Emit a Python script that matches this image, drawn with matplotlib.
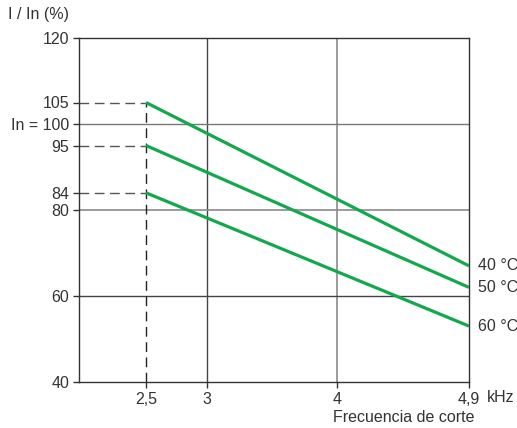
import numpy as np
import matplotlib.pyplot as plt

plt.rcParams['font.family'] = ['Liberation Sans', 'DejaVu Sans']

# datos
freq = [2.5, 4.9]                      # kHz
temps = ["40 °C", "50 °C", "60 °C"]
corriente = [[105, 67], [95, 62], [84, 53]]   # I / In (%)
y_ticks = [40, 60, 80, 84, 95, 100, 105, 120]
y_labels = ["40", "60", "80", "84", "95", "In = 100", "105", "120"]
x_ticks = [2.5, 3, 4, 4.9]
x_labels = ["2,5", "3", "4", "4,9"]

# escala esquemática del eje x (no lineal en el original)
x_real = np.array([2.0, 2.5, 3.0, 4.0, 4.9])
x_pos = np.array([0.0, 67.0, 128.0, 258.0, 390.0])


def fwd(x):
    return np.interp(x, x_real, x_pos)


def inv(p):
    return np.interp(p, x_pos, x_real)


TXT = "#333333"
GREEN = "#12a84e"
FS = 11.5

fig = plt.figure(figsize=(5.17, 4.28), dpi=100)
ax = fig.add_axes([79 / 517, 46 / 428, 390 / 517, 344 / 428])
ax.set_xscale("function", functions=(fwd, inv))
ax.set_xlim(2.0, 4.9)
ax.set_ylim(40, 120)

# rejilla
ax.axvline(3, color="#444444", lw=1.0, zorder=1)
ax.axvline(4, color="#8a8a8a", lw=1.2, zorder=1)
ax.axhline(100, color="#777777", lw=1.0, zorder=1)
ax.axhline(80, color="#8a8a8a", lw=1.2, zorder=1)
ax.axhline(60, color="#444444", lw=1.0, zorder=1)

# líneas de referencia discontinuas
for (y0, _) in corriente:
    ax.plot([2.0, freq[0]], [y0, y0], color="#555555", lw=1.0,
            dashes=(7, 4), zorder=2)
ax.plot([freq[0], freq[0]], [40, corriente[0][0]], color="#222222", lw=1.0,
        dashes=(7, 4), zorder=2)

for lab, vals in zip(temps, corriente):
    ax.plot(freq, vals, color=GREEN, lw=2.3, zorder=3, solid_capstyle="butt")
    ax.text(4.9, vals[1], "  " + lab, ha="left", va="center",
            fontsize=FS, color=TXT, clip_on=False)

for s in ax.spines.values():
    s.set_color("#333333")
    s.set_linewidth(1.0)

ax.set_xticks(x_ticks)
ax.set_xticklabels(x_labels)
ax.set_yticks(y_ticks)
ax.set_yticklabels(y_labels)
ax.tick_params(axis="both", colors="#333333", labelcolor=TXT, labelsize=FS,
               length=4, width=1.0, direction="out")
ax.tick_params(axis="x", pad=3)
ax.tick_params(axis="y", pad=3)

ax.text(-71 / 390, 1.0 + 24 / 344, "I / In (%)", transform=ax.transAxes,
        ha="left", va="center", fontsize=FS, color=TXT)
ax.text(1.0 + 18 / 390, -15 / 344, "kHz", transform=ax.transAxes,
        ha="left", va="center", fontsize=FS, color=TXT)
ax.text(1.0 + 6 / 390, -35 / 344, "Frecuencia de corte", transform=ax.transAxes,
        ha="right", va="center", fontsize=FS, color=TXT)

fig.savefig("out.png", dpi=100)
